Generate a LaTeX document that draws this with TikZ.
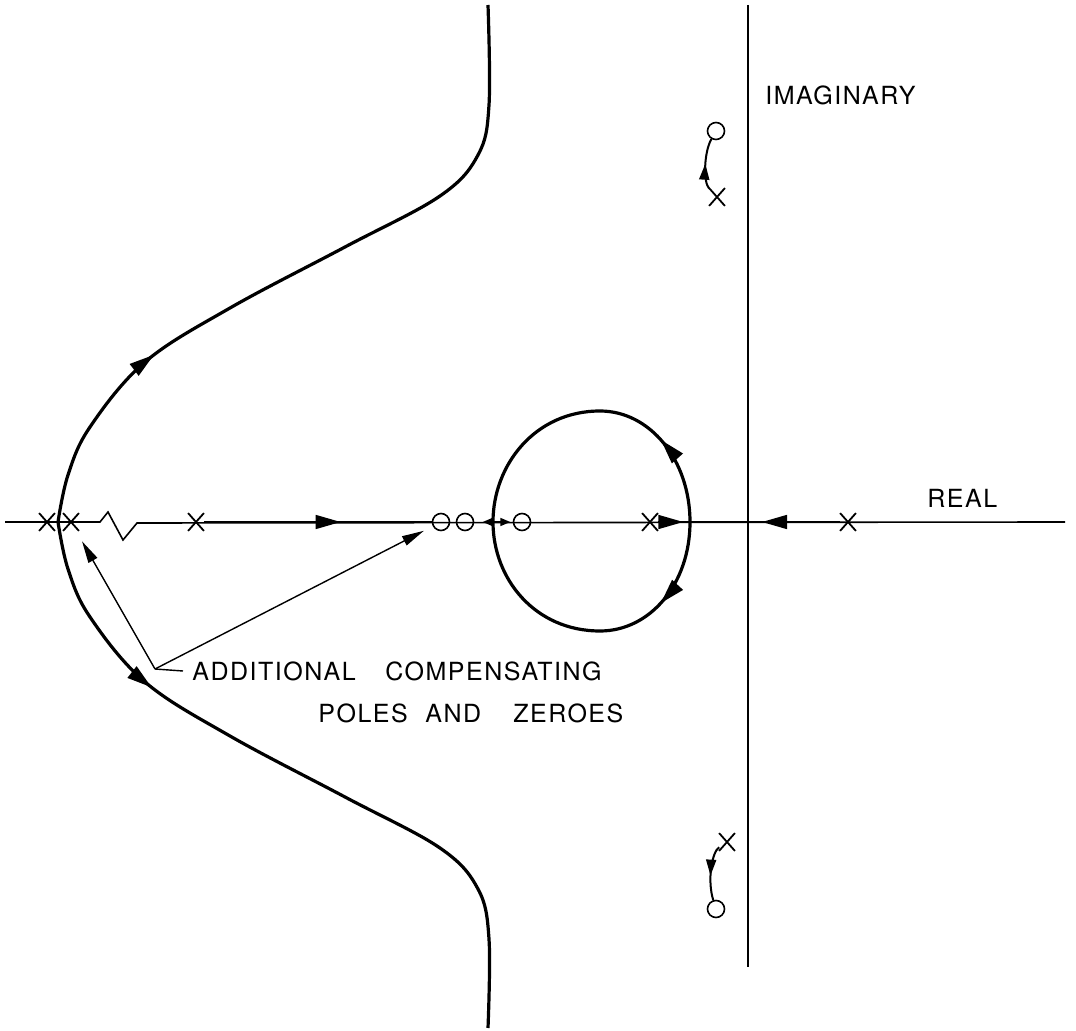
\documentclass[tikz,border=0pt]{standalone}
\usepackage{fontspec}
\setmainfont{TeX Gyre Heros}[LetterSpace=6.0]
\usetikzlibrary{arrows.meta,shapes.misc,decorations.markings}

\tikzset{
  bigtip/.tip={Triangle[length=12.5pt,width=7pt]},
  smalltip/.tip={Triangle[length=8pt,width=5pt]},
  axis/.style={line width=0.8pt},
  locus/.style={line width=1.6pt},
  branch/.style={line width=1pt},
  pole/.style={cross out, draw, line width=0.9pt, minimum width=7pt, minimum height=8pt, inner sep=0pt},
  zero/.style={circle, draw, line width=0.8pt, minimum size=8.5pt, inner sep=0pt},
  lbl/.style={font=\fontsize{12.5}{15}\selectfont, inner sep=2pt, anchor=west},
  midarrow/.style={postaction={decorate, decoration={markings, mark=at position #1 with {\arrow{bigtip}}}}},
  midsmall/.style={postaction={decorate, decoration={markings, mark=at position #1 with {\arrow{smalltip}}}}},
  leader/.style={line width=0.7pt},
  leadarrow/.style={line width=0.7pt, -{Triangle[length=11pt,width=5pt]}},
}

\begin{document}
\begin{tikzpicture}[x=0.5pt, y=-0.5pt]
    \useasboundingbox (0,0) rectangle (1076,1031);

    % Axes
    \coordinate (rl) at (5,522);
    \coordinate (rr) at (1065,522);
    \coordinate (it) at (748,5);
    \coordinate (ib) at (748,967);
    \draw[axis] (rl) -- (100,522) -- (108,512) -- (123,540) -- (137,523) -- (rr);
    \draw[axis] (it) -- (ib);

    % Poles and zeroes
    \node[pole] (p1) at (47,522) {};
    \node[pole] (p2) at (71,522) {};
    \node[pole] (p3) at (196,522) {};
    \node[pole] (p4) at (650,522) {};
    \node[pole] (p5) at (848,522) {};
    \node[pole] (p6) at (717,197) {};
    \node[pole] (p7) at (727,842) {};
    \node[zero] (z1) at (441,522) {};
    \node[zero] (z2) at (465,522) {};
    \node[zero] (z3) at (522,522) {};
    \node[zero] (z4) at (716,131) {};
    \node[zero] (z5) at (716,909) {};

    % Break points
    \coordinate (brkF) at (58,522);
    \coordinate (brkL) at (493,522);
    \coordinate (brkR) at (690,522);

    % Arrows along the real axis
    \draw[axis, midarrow=0.6] (p3) -- (z1);
    \draw[axis, midarrow=0.79] (p4) -- (brkR);
    \draw[axis, midarrow=0.52] (p5) -- (brkR);
    \draw[axis, -{Triangle[length=5pt,width=4pt]}, shorten >=4.2pt] (brkL) -- (z2);
    \draw[axis, -{Triangle[length=5pt,width=4pt]}, shorten >=1.2pt] (brkL) -- (z3);

    % Outer branches
    \draw[locus, midarrow=0.27] plot[smooth, tension=0.6] coordinates {(brkF) (68,475) (90,427) (145,362) (230,308) (345,247) (440,196) (478,155) (489,105) (488,5)};
    \draw[locus, midarrow=0.27] plot[smooth, tension=0.6] coordinates {(brkF) (68,569) (90,617) (145,682) (230,736) (345,797) (440,848) (478,889) (489,939) (488,1028)};

    % Loop round the zero
    \draw[locus, midarrow=0.27] (brkR) .. controls (690,460) and (650,411) .. (600,411) .. controls (535,411) and (493,465) .. (brkL);
    \draw[locus, midarrow=0.27] (brkR) .. controls (690,584) and (650,631) .. (600,631) .. controls (535,631) and (493,579) .. (brkL);

    % Complex pair
    \draw[branch, midsmall=0.5] (p6) .. controls (703,182) and (704,152) .. (z4);
    \draw[branch, midsmall=0.55] (p7) .. controls (712,852) and (707,880) .. (z5);

    % Labels
    \node[lbl] (imag) at (761,95) {IMAGINARY};
    \node[lbl] (real) at (923,498) {REAL};
    \node[lbl] (add) at (188,671) {ADDITIONAL};
    \node[lbl] (comp) at (381,671) {COMPENSATING};
    \node[lbl] (poles) at (314,713) {POLES};
    \node[lbl] (and) at (421,713) {AND};
    \node[lbl] (zer) at (509,713) {ZEROES};

    % Leaders to the compensating poles and zeroes
    \coordinate (lead) at (155,669);
    \draw[leader] ([xshift=-2.5pt]add.west) -- (lead);
    \draw[leadarrow, shorten >=6pt] (lead) -- (p2);
    \draw[leadarrow, shorten >=5pt] (lead) -- (z1);
\end{tikzpicture}
\end{document}
